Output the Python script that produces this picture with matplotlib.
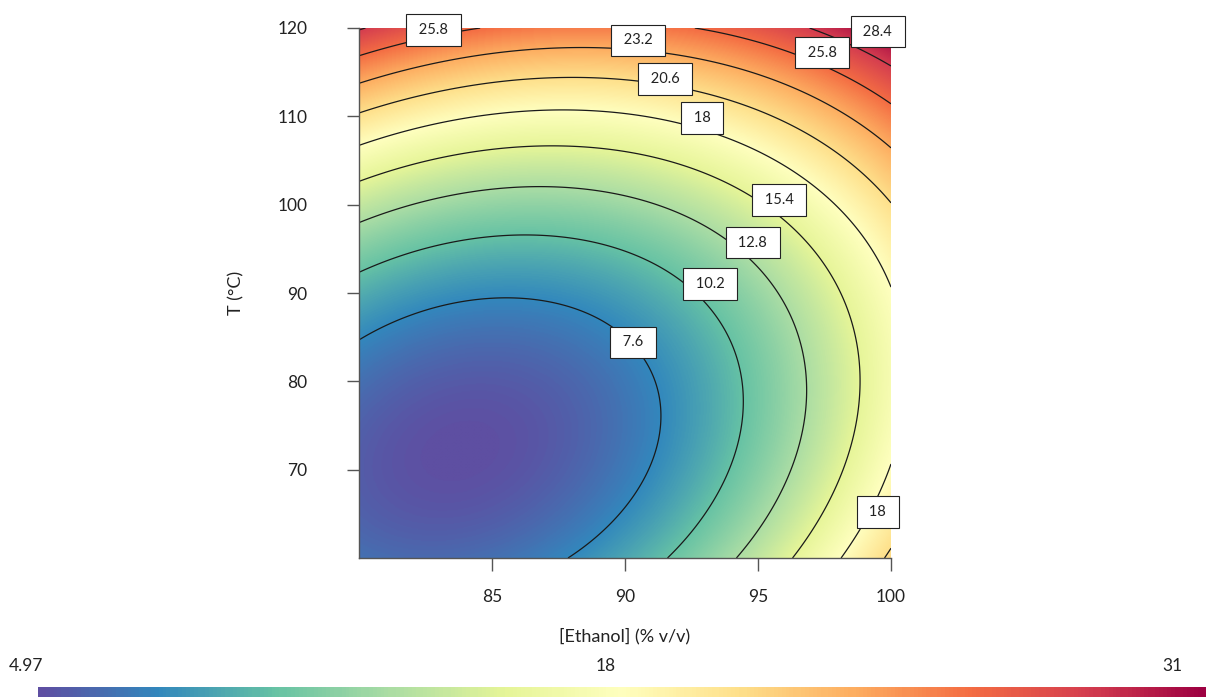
import numpy as np
import matplotlib
matplotlib.use("Agg")
import matplotlib.pyplot as plt
from matplotlib.colors import Normalize

plt.rcParams['font.family'] = ['Lato', 'DejaVu Sans']

# quadratic response-surface model
x_opt = 83.8      # ethanol at the minimum, % v/v
y_opt = 72.1      # temperature at the minimum, deg C
z_min = 4.97
coef_xx = 0.0487
coef_yy = 0.00922
coef_xy = -0.00974

x_range = [80, 100]
y_range = [60, 120]
z_range = [4.97, 31]
contour_levels = [7.6, 10.2, 12.8, 15.4, 18, 20.6, 23.2, 25.8, 28.4]
x_ticks = [85, 90, 95, 100]
y_ticks = [70, 80, 90, 100, 110, 120]
cbar_labels = ['4.97', '18', '31']

# where the boxed labels sit
label_pos = [(82.8, 119.8), (90.5, 118.6), (99.5, 119.6), (97.4, 117.2),
             (91.5, 114.2), (92.9, 109.8), (95.8, 100.5), (94.8, 95.7),
             (93.2, 91.0), (90.3, 84.4), (99.5, 65.2)]

x = np.linspace(x_range[0], x_range[1], 500)
y = np.linspace(y_range[0], y_range[1], 500)
X, Y = np.meshgrid(x, y)
dx = X - x_opt
dy = Y - y_opt
Z = z_min + coef_xx * dx**2 + coef_yy * dy**2 + coef_xy * dx * dy

cmap = plt.get_cmap('Spectral_r')
norm = Normalize(vmin=z_range[0], vmax=z_range[1])

fig = plt.figure(figsize=(12.08, 6.97), dpi=100)
ax = fig.add_axes([359/1208, 1 - 558/697, 532/1208, 530/697])

ax.imshow(Z, extent=[x_range[0], x_range[1], y_range[0], y_range[1]],
          origin='lower', aspect='auto', cmap=cmap, norm=norm, interpolation='bilinear')
cs = ax.contour(X, Y, Z, levels=contour_levels, colors='#1a1a1a', linewidths=0.9)

labels = ax.clabel(cs, inline=False, manual=label_pos, fontsize=10.5,
                   fmt=lambda v: ' %g ' % round(v, 1))
for t, pos in zip(labels, label_pos):
    t.set_position(pos)
    t.set_rotation(0)
    t.set_color('#222222')
    t.set_bbox(dict(boxstyle='square,pad=0.6', facecolor='white',
                    edgecolor='#222222', linewidth=0.8))
    t.set_clip_on(False)
    t.set_zorder(5)

ax.set_xlim(x_range)
ax.set_ylim(y_range)
ax.set_xticks(x_ticks)
ax.set_yticks(y_ticks)
ax.tick_params(axis='both', direction='out', length=9, width=1, color='#555555',
               labelsize=12.5, labelcolor='#222222')
ax.tick_params(axis='y', pad=28)
ax.tick_params(axis='x', pad=13)
for side in ['top', 'right']:
    ax.spines[side].set_visible(False)
for side in ['left', 'bottom']:
    ax.spines[side].set_color('#555555')
    ax.spines[side].set_linewidth(1)

ax.set_xlabel('[Ethanol] (% v/v)', fontsize=13, color='#222222', labelpad=17)
ax.set_ylabel('T (°C)', fontsize=13, color='#222222', labelpad=24)

# colour bar along the bottom edge
cax = fig.add_axes([38/1208, 0, 1168/1208, 10/697])
grad = np.linspace(z_range[0], z_range[1], 300).reshape(1, -1)
cax.imshow(grad, aspect='auto', cmap=cmap, norm=norm,
           extent=[z_range[0], z_range[1], 0, 1])
cax.set_axis_off()

fig.text(26/1208, 1 - 666/697, cbar_labels[0], ha='center', va='center', fontsize=12.5, color='#222222')
fig.text(606/1208, 1 - 666/697, cbar_labels[1], ha='center', va='center', fontsize=12.5, color='#222222')
fig.text(1172/1208, 1 - 666/697, cbar_labels[2], ha='center', va='center', fontsize=12.5, color='#222222')

fig.savefig('out.png', dpi=100)
